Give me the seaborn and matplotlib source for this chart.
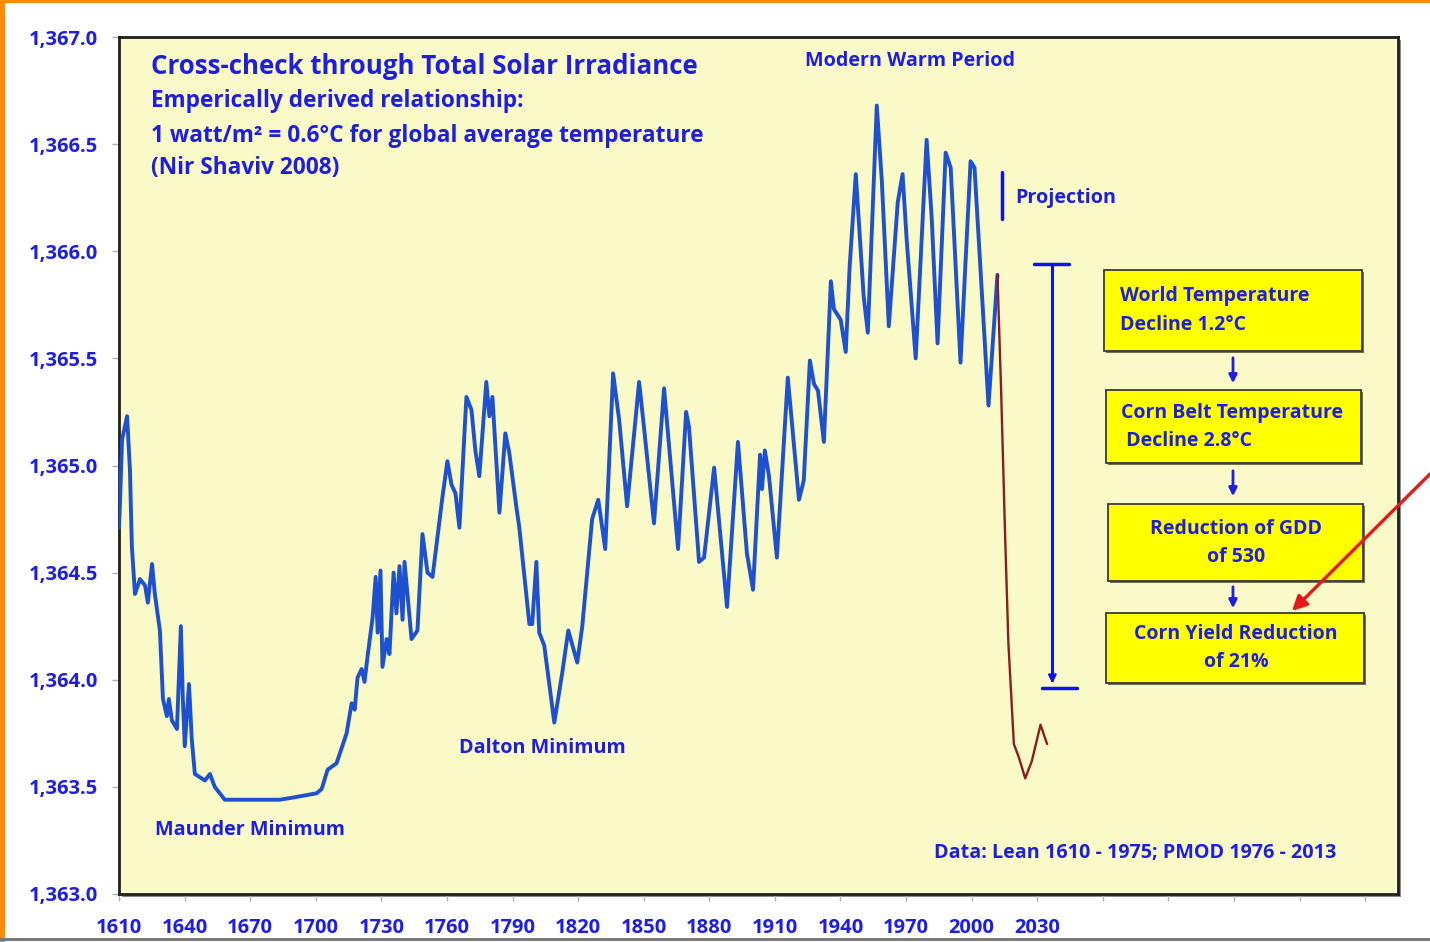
import numpy as np
import pandas as pd
import matplotlib
matplotlib.use("Agg")
import matplotlib.pyplot as plt
import seaborn as sns
from matplotlib.patches import Rectangle, FancyArrowPatch
from matplotlib.ticker import FuncFormatter

# Total solar irradiance (W/m2), Lean 1610-1975 / PMOD 1976-2013
tsi_years = [1610.0, 1610.5, 1611.4, 1613.7, 1615.0, 1615.9, 1617.3, 1619.6, 1621.9, 1623.2,
             1625.1, 1626.4, 1628.7, 1630.1, 1631.9, 1632.8, 1634.2, 1636.5, 1638.3, 1639.2,
             1640.1, 1642.0, 1643.3, 1644.7, 1649.3, 1651.6, 1653.8, 1658.4, 1665.3, 1674.4,
             1683.5, 1689.5, 1694.9, 1700.4, 1702.7, 1705.4, 1709.5, 1714.1, 1716.4, 1717.8,
             1719.1, 1721.0, 1722.3, 1723.7, 1726.0, 1727.4, 1728.3, 1729.6, 1730.5, 1732.4,
             1733.7, 1735.6, 1736.9, 1738.3, 1739.7, 1740.6, 1743.8, 1746.5, 1748.8, 1751.1,
             1753.4, 1757.9, 1760.2, 1762.1, 1763.9, 1765.7, 1768.9, 1771.2, 1773.0, 1774.8,
             1778.0, 1779.4, 1780.8, 1784.0, 1786.7, 1788.5, 1791.7, 1793.1, 1797.7, 1799.0,
             1800.9, 1802.2, 1804.5, 1809.1, 1812.7, 1815.5, 1819.6, 1821.9, 1826.4, 1829.2,
             1832.4, 1836.0, 1838.8, 1842.4, 1847.9, 1850.2, 1854.7, 1859.3, 1865.7, 1869.4,
             1870.7, 1875.3, 1877.6, 1882.2, 1888.1, 1893.1, 1897.2, 1900.0, 1903.2, 1904.1,
             1905.4, 1907.3, 1910.9, 1915.9, 1921.0, 1923.2, 1926.0, 1927.9, 1929.7, 1932.4,
             1935.6, 1937.0, 1940.1, 1942.4, 1944.2, 1947.0, 1950.6, 1952.5, 1956.6, 1958.9,
             1962.1, 1966.2, 1968.4, 1970.3, 1974.4, 1979.4, 1981.7, 1984.4, 1988.1, 1990.4,
             1994.9, 1999.5, 2001.3, 2007.7, 2011.8]
tsi_values = [1364.71, 1364.84, 1365.12, 1365.23, 1364.98, 1364.62, 1364.40, 1364.47, 1364.44, 1364.36,
              1364.54, 1364.40, 1364.23, 1363.91, 1363.83, 1363.91, 1363.81, 1363.77, 1364.25, 1363.91,
              1363.69, 1363.98, 1363.72, 1363.56, 1363.53, 1363.56, 1363.50, 1363.44, 1363.44, 1363.44,
              1363.44, 1363.45, 1363.46, 1363.47, 1363.49, 1363.58, 1363.61, 1363.75, 1363.89, 1363.86,
              1364.01, 1364.05, 1363.99, 1364.11, 1364.29, 1364.48, 1364.22, 1364.51, 1364.06, 1364.19,
              1364.12, 1364.50, 1364.31, 1364.53, 1364.28, 1364.55, 1364.19, 1364.23, 1364.68, 1364.50,
              1364.48, 1364.85, 1365.02, 1364.91, 1364.87, 1364.71, 1365.32, 1365.26, 1365.07, 1364.95,
              1365.39, 1365.23, 1365.32, 1364.78, 1365.15, 1365.06, 1364.81, 1364.71, 1364.26, 1364.26,
              1364.55, 1364.22, 1364.16, 1363.80, 1364.03, 1364.23, 1364.08, 1364.25, 1364.75, 1364.84,
              1364.61, 1365.43, 1365.21, 1364.81, 1365.39, 1365.17, 1364.73, 1365.36, 1364.61, 1365.25,
              1365.18, 1364.55, 1364.57, 1364.99, 1364.34, 1365.11, 1364.59, 1364.42, 1365.05, 1364.89,
              1365.07, 1364.95, 1364.57, 1365.41, 1364.84, 1364.93, 1365.49, 1365.38, 1365.35, 1365.11,
              1365.86, 1365.73, 1365.68, 1365.53, 1365.93, 1366.36, 1365.79, 1365.62, 1366.68, 1366.33,
              1365.65, 1366.23, 1366.36, 1366.05, 1365.50, 1366.52, 1366.16, 1365.57, 1366.46, 1366.39,
              1365.48, 1366.42, 1366.39, 1365.28, 1365.89]

# projected decline
proj_years = [2011.8, 2013.5, 2015.3, 2016.8, 2019.3, 2021.5, 2024.5, 2027.5, 2031.5, 2034.5]
proj_values = [1365.89, 1365.34, 1364.67, 1364.17, 1363.70, 1363.64, 1363.54, 1363.62, 1363.79, 1363.70]

x_ticks = list(range(1610, 2181, 30))
x_labels = [str(t) if t <= 2030 else "" for t in x_ticks]
y_ticks = [1363.0, 1363.5, 1364.0, 1364.5, 1365.0, 1365.5, 1366.0, 1366.5, 1367.0]

title_lines = ["Cross-check through Total Solar Irradiance",
               "Emperically derived relationship:",
               "1 watt/m\u00b2 = 0.6\u00b0C for global average temperature",
               "(Nir Shaviv 2008)"]
box_labels = ["World Temperature\nDecline 1.2\u00b0C",
              "Corn Belt Temperature\n Decline 2.8\u00b0C",
              "Reduction of GDD\nof 530",
              "Corn Yield Reduction\nof 21%"]

TEXT_BLUE = "#1E1EE0"
LINE_BLUE = "#1E50D2"
W, H = 1430, 942


def px(x, y):
    # image pixel (top-left origin) -> figure fraction
    return x / W, 1 - y / H


sns.set_theme(style="white")
plt.rcParams["font.family"] = ["Open Sans", "DejaVu Sans"]
plt.rcParams["font.weight"] = "bold"

fig = plt.figure(figsize=(14.3, 9.42), dpi=100)
ax = fig.add_axes([119 / W, 1 - 894 / H, (1398 - 119) / W, (894 - 37) / H])
ax.set_facecolor("#FAFAC8")

# frame shadow
sx, sy = px(122, 897)
fig.patches.append(Rectangle((sx, sy), 1279 / W, 857 / H, transform=fig.transFigure,
                             facecolor="#8C8C8C", edgecolor="none", zorder=-1))

df = pd.DataFrame({"year": tsi_years, "tsi": tsi_values})
dp = pd.DataFrame({"year": proj_years, "tsi": proj_values})
sns.lineplot(data=df, x="year", y="tsi", ax=ax, color=LINE_BLUE, lw=2.8,
             sort=False, solid_joinstyle="round", zorder=3)
sns.lineplot(data=dp, x="year", y="tsi", ax=ax, color="#8B1E1E", lw=1.7,
             sort=False, solid_joinstyle="round", zorder=4)

ax.set_xlim(1610, 2195)
ax.set_ylim(1363.0, 1367.0)
ax.set_xticks(x_ticks)
ax.set_xticklabels(x_labels)
ax.set_yticks(y_ticks)
ax.yaxis.set_major_formatter(FuncFormatter(lambda v, p: f"{v:,.1f}"))
ax.set_xlabel("")
ax.set_ylabel("")
ax.tick_params(axis="x", length=5, width=1, color="#B0B0B0", pad=12,
               labelsize=14.5, labelcolor=TEXT_BLUE, bottom=True)
ax.tick_params(axis="y", length=5, width=1, color="#B0B0B0", pad=10,
               labelsize=14.5, labelcolor=TEXT_BLUE, left=True)
for lab in ax.get_xticklabels() + ax.get_yticklabels():
    lab.set_fontweight("bold")
for s in ax.spines.values():
    s.set_color("#202020")
    s.set_linewidth(2)

# title block
tx = 1624.5
ax.text(tx, 1366.86, title_lines[0], color=TEXT_BLUE, fontsize=18.6, fontweight="bold", va="center")
ax.text(tx, 1366.70, title_lines[1], color=TEXT_BLUE, fontsize=16.3, fontweight="bold", va="center")
ax.text(tx, 1366.54, title_lines[2], color=TEXT_BLUE, fontsize=16.3, fontweight="bold", va="center")
ax.text(tx, 1366.39, title_lines[3], color=TEXT_BLUE, fontsize=16.3, fontweight="bold", va="center")

# period labels
lab_kw = dict(color=TEXT_BLUE, fontsize=14.2, fontweight="bold", va="center")
ax.text(1923.7, 1366.89, "Modern Warm Period", **lab_kw)
ax.text(1765.7, 1363.68, "Dalton Minimum", **lab_kw)
ax.text(1626.4, 1363.30, "Maunder Minimum", **lab_kw)
ax.text(2019.8, 1366.25, "Projection", **lab_kw)
ax.text(1982.6, 1363.19, "Data: Lean 1610 - 1975; PMOD 1976 - 2013", **lab_kw)

# projection marker and range bar
ax.plot([2014.1, 2014.1], [1366.15, 1366.37], color="#1010F0", lw=2.5, zorder=5)
ax.plot([2036.9, 2036.9], [1365.94, 1364.00], color="#1010F0", lw=2.2, zorder=5)
ax.plot([2028.3, 2044.7], [1365.94, 1365.94], color="#1010F0", lw=2.5, zorder=5)
ax.plot([2032.0, 2048.0], [1363.96, 1363.96], color="#1010F0", lw=2.5, zorder=5)
ax.annotate("", xy=(2036.9, 1363.97), xytext=(2036.9, 1364.07),
            arrowprops=dict(arrowstyle="-|>", color="#1010F0", lw=1.5, mutation_scale=12))

# flow of boxes
box_rects = [(1104, 270, 1362, 351), (1106, 390, 1361, 463), (1108, 504, 1363, 581), (1106, 613, 1364, 683)]
box_text_x = [1120, 1121, 1236, 1236]
box_ha = ["left", "left", "center", "center"]
for (x0, y0, x1, y1), label, bx, ha in zip(box_rects, box_labels, box_text_x, box_ha):
    fx, fy = px(x0 + 2, y1 + 2)
    fig.patches.append(Rectangle((fx, fy), (x1 - x0) / W, (y1 - y0) / H, transform=fig.transFigure,
                                 facecolor="#6E6E50", edgecolor="none", zorder=6))
    fx, fy = px(x0, y1)
    fig.patches.append(Rectangle((fx, fy), (x1 - x0) / W, (y1 - y0) / H, transform=fig.transFigure,
                                 facecolor="#FFFF00", edgecolor="#3A3A3A", lw=1.3, zorder=7))
    l1, l2 = label.split("\n")
    yc = (y0 + y1) / 2
    fig.text(*px(bx, yc - 14), l1, color=TEXT_BLUE, fontsize=14, fontweight="bold",
             ha=ha, va="center", zorder=8)
    fig.text(*px(bx, yc + 14), l2, color=TEXT_BLUE, fontsize=14, fontweight="bold",
             ha=ha, va="center", zorder=8)

for ya, yb in [(355, 386), (468, 499), (584, 611)]:
    fig.patches.append(FancyArrowPatch(px(1233, ya), px(1233, yb), transform=fig.transFigure,
                                       arrowstyle="-|>", mutation_scale=12, lw=2,
                                       color="#1E1EE0", zorder=8))

# red pointer
fig.patches.append(FancyArrowPatch(px(1432, 472), px(1290, 613), transform=fig.transFigure,
                                   arrowstyle="-|>", mutation_scale=22, lw=2.4,
                                   color="#E81818", zorder=9))

# picture frame
fig.patches.append(Rectangle((0, 0), 5 / W, 1, transform=fig.transFigure,
                             facecolor="#FF8C00", edgecolor="none", zorder=10))
fig.patches.append(Rectangle((0, 1 - 3 / H), 1, 3 / H, transform=fig.transFigure,
                             facecolor="#FF8C00", edgecolor="none", zorder=10))
fig.patches.append(Rectangle((0, 1 - 941 / H), 1, 3 / H, transform=fig.transFigure,
                             facecolor="#7A7A7A", edgecolor="none", zorder=10))

fig.savefig("out.png", dpi=100, facecolor="white")
